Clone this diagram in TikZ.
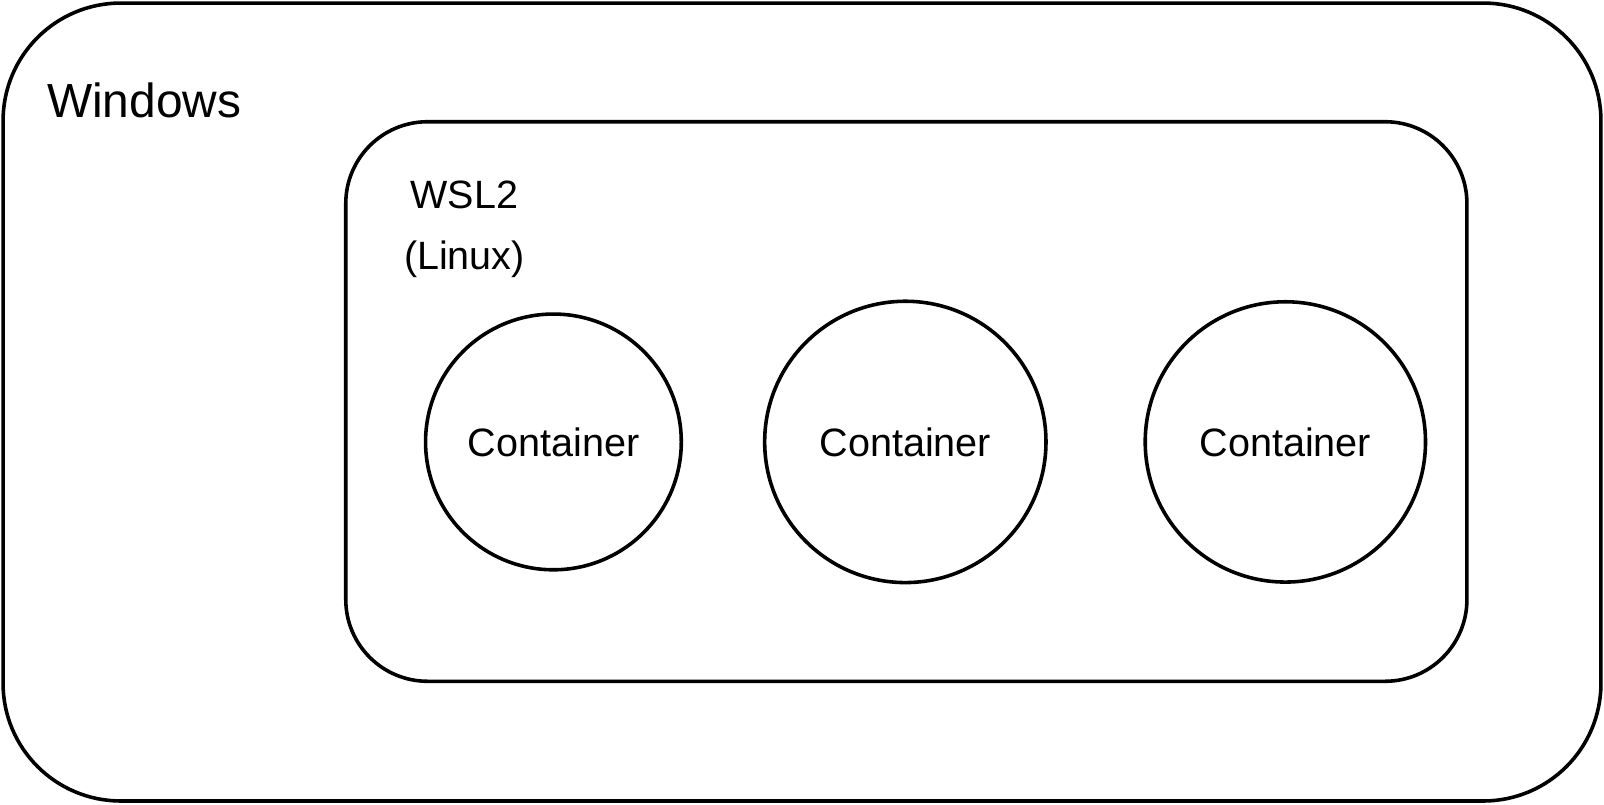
\documentclass[tikz,border=0pt]{standalone}
\usepackage{fontspec}
\setmainfont{Liberation Sans}
\begin{document}
\begin{tikzpicture}[x=1pt,y=-1pt,
  box/.style={draw=black,line width=3.5pt,rectangle,inner sep=0pt,outer sep=0pt},
  cont/.style={draw=black,line width=3.5pt,circle,inner sep=0pt,outer sep=0pt,
    font=\fontsize{38.7}{46}\selectfont},
  lbl/.style={inner sep=0pt,outer sep=0pt}]
\useasboundingbox (0,0) rectangle (1568,786);
\node[box,rounded corners=115pt,minimum width=1562pt,minimum height=780pt] (win) at (784,393) {};
\node[lbl,anchor=base west,font=\fontsize{46.8}{56}\selectfont] (wintxt) at (46,115) {Windows};
\node[box,rounded corners=80pt,minimum width=1096pt,minimum height=547pt] (wsl) at (886,392.5) {};
\node[lbl,anchor=base,font=\fontsize{38.6}{46}\selectfont] (wsltxt) at (454,204) {WSL2};
\node[lbl,anchor=base,font=\fontsize{38.6}{46}\selectfont] (linuxtxt) at (454,263) {(Linux)};
\node[cont,minimum size=250pt] (c1) at (541,432) {Container};
\node[cont,minimum size=275pt] (c2) at (885,432) {Container};
\node[cont,minimum size=274pt] (c3) at (1256.5,432) {Container};
\end{tikzpicture}
\end{document}
